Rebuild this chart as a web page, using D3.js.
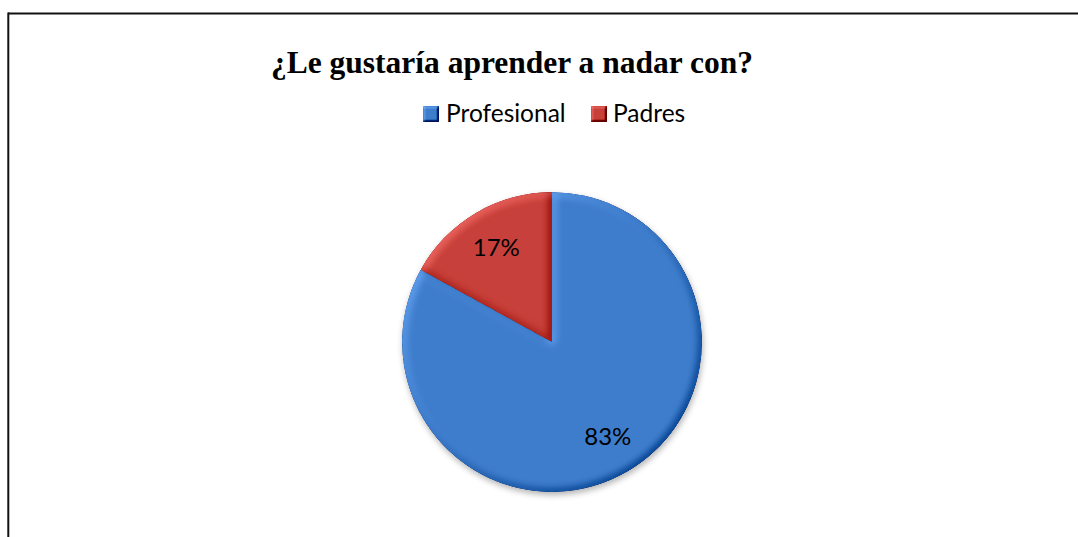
<!DOCTYPE html>
<html>
<head>
<meta charset="utf-8">
<script src="https://cdn.jsdelivr.net/npm/d3@7"></script>
<style>
  html, body { margin: 0; padding: 0; background: #fff; }
  svg { display: block; }
</style>
</head>
<body>
<svg id="chart" width="1078" height="537"></svg>
<script>
// Survey answers: who should teach swimming
const title = "¿Le gustaría aprender a nadar con?";
const categories = ["Profesional", "Padres"];
const values = [83, 17];
const labels = ["83%", "17%"];
const colors = ["#3E7DCC", "#C8403A"];

const W = 1078, H = 537;
const svg = d3.select("#chart");
const defs = svg.append("defs");

// Soft bevel: diffuse light on the blurred outline, re-centred so flat areas keep their colour
function makeBevel(id, blur, strength) {
  const f = defs.append("filter").attr("id", id)
    .attr("x", "-10%").attr("y", "-10%").attr("width", "120%").attr("height", "120%")
    .attr("color-interpolation-filters", "sRGB");
  f.append("feGaussianBlur").attr("in", "SourceAlpha").attr("stdDeviation", blur).attr("result", "blur");
  const light = f.append("feDiffuseLighting").attr("in", "blur")
    .attr("surfaceScale", 3).attr("diffuseConstant", 1)
    .attr("lighting-color", "#ffffff").attr("result", "lit");
  light.append("feDistantLight").attr("azimuth", 225).attr("elevation", 45);
  f.append("feComposite").attr("in", "lit").attr("in2", "SourceAlpha").attr("operator", "in").attr("result", "litIn");
  f.append("feComposite").attr("in", "SourceGraphic").attr("in2", "litIn")
    .attr("operator", "arithmetic").attr("k1", 0).attr("k2", 1)
    .attr("k3", strength).attr("k4", -strength * 0.7071);
}
makeBevel("bevel", 4, 0.45);
makeBevel("bevelSmall", 1.2, 0.6);

// Drop shadow under the whole pie
const shadow = defs.append("filter").attr("id", "shadow")
  .attr("x", "-20%").attr("y", "-20%").attr("width", "140%").attr("height", "140%");
shadow.append("feGaussianBlur").attr("in", "SourceAlpha").attr("stdDeviation", 3).attr("result", "b");
shadow.append("feOffset").attr("in", "b").attr("dx", 1).attr("dy", 3).attr("result", "o");
shadow.append("feComponentTransfer").attr("in", "o").attr("result", "s")
  .append("feFuncA").attr("type", "linear").attr("slope", 0.3);
const merge = shadow.append("feMerge");
merge.append("feMergeNode").attr("in", "s");
merge.append("feMergeNode").attr("in", "SourceGraphic");

// Frame lines
svg.append("line").attr("x1", 8).attr("x2", W).attr("y1", 13.5).attr("y2", 13.5)
  .attr("stroke", "#111").attr("stroke-width", 2);
svg.append("line").attr("x1", 8.3).attr("x2", 8.3).attr("y1", 12.5).attr("y2", H)
  .attr("stroke", "#111").attr("stroke-width", 2);

// Title
svg.append("text")
  .attr("x", 512).attr("y", 73)
  .attr("text-anchor", "middle")
  .attr("font-family", "'Liberation Serif', 'Times New Roman', serif")
  .attr("font-weight", "bold")
  .attr("font-size", 31.5)
  .attr("fill", "#000")
  .text(title);

// Legend
const legendItems = [{x: 423, tx: 446}, {x: 591, tx: 613}];
const legend = svg.append("g");
categories.forEach((name, i) => {
  legend.append("rect")
    .attr("x", legendItems[i].x).attr("y", 106).attr("width", 16).attr("height", 16)
    .attr("fill", colors[i])
    .attr("filter", "url(#bevelSmall)");
  legend.append("text")
    .attr("x", legendItems[i].tx).attr("y", 122)
    .attr("font-family", "Lato, 'Open Sans', sans-serif")
    .attr("font-size", 24.5)
    .attr("fill", "#000")
    .text(name);
});

// Pie
const cx = 552, cy = 342, r = 150;
const pie = d3.pie().sort(null).value(d => d)(values);
const arc = d3.arc().innerRadius(0).outerRadius(r);
const labelArc = d3.arc().innerRadius(r * 0.73).outerRadius(r * 0.73);

const pieG = svg.append("g").attr("transform", `translate(${cx},${cy})`);
const slices = pieG.append("g").attr("filter", "url(#shadow)");
slices.selectAll("path")
  .data(pie)
  .join("path")
  .attr("d", arc)
  .attr("fill", (d, i) => colors[i])
  .attr("filter", "url(#bevel)");

pieG.selectAll("text.lbl")
  .data(pie)
  .join("text")
  .attr("class", "lbl")
  .attr("transform", d => `translate(${labelArc.centroid(d)})`)
  .attr("text-anchor", "middle")
  .attr("dy", "0.36em")
  .attr("font-family", "Lato, 'Open Sans', sans-serif")
  .attr("font-size", 24)
  .attr("fill", "#000")
  .text((d, i) => labels[i]);
</script>
</body>
</html>
